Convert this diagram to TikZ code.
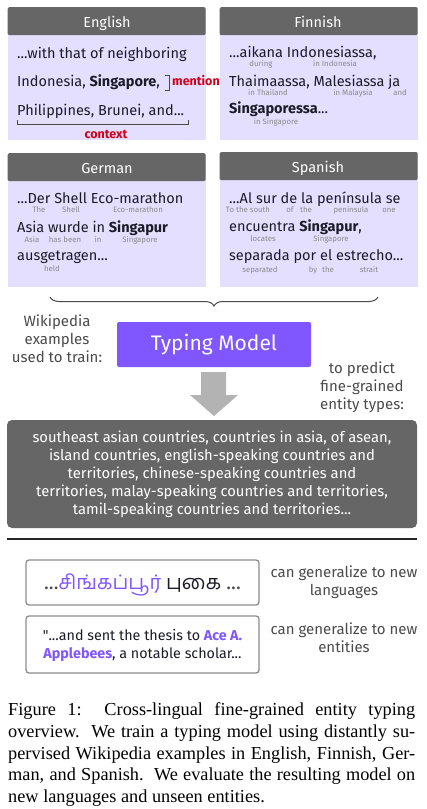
\documentclass[tikz,border=0pt]{standalone}
\usepackage{fontspec}
\setmainfont{Fira Sans}
\newfontfamily\rawfont{Fira Sans}[Ligatures=TeXOff]
\newfontfamily\capfont{Liberation Serif}
\newfontfamily\tamilfont[Script=Tamil]{Hind Madurai}
\usetikzlibrary{decorations.pathreplacing}
\definecolor{hdr}{HTML}{666666}
\definecolor{lav}{HTML}{E4DEFF}
\definecolor{txt}{HTML}{1C1C28}
\definecolor{gl}{HTML}{8A8A8A}
\definecolor{redm}{HTML}{D0021B}
\definecolor{purp}{HTML}{7F56FF}
\definecolor{arrg}{HTML}{B3B3B3}
\definecolor{side}{HTML}{4A4A4A}
\definecolor{bord}{HTML}{8C8C8C}
\tikzset{
  panel/.style={fill=lav, draw=none, anchor=north west, minimum width=198pt, minimum height=133pt, inner sep=0},
  hdrbox/.style={fill=hdr, draw=none, anchor=north west, minimum width=198pt, minimum height=28pt, inner sep=0, rounded corners=1.5pt},
  hdrtxt/.style={anchor=base, inner sep=0, text=white, font=\fontsize{14.5}{16}\selectfont},
  line/.style={anchor=base west, inner sep=0, text=txt, font=\fontsize{14.5}{16}\selectfont},
  gloss/.style={anchor=base, inner sep=0, text=gl, font=\fontsize{7.8}{8}\selectfont},
  sidetxt/.style={anchor=base, inner sep=0, text=side, font=\fontsize{15}{18}\selectfont},
  redlab/.style={anchor=base west, inner sep=0, text=redm, font=\fontsize{12.5}{14}\selectfont\bfseries},
  evalbox/.style={draw=bord, line width=1.3pt, rounded corners=3pt, fill=white, minimum width=233pt, inner sep=0},
  caption/.style={anchor=base west, inner sep=0, font=\capfont\fontsize{18.3}{22}\selectfont},
}
\begin{document}
\begin{tikzpicture}[x=1pt,y=-1pt]
\useasboundingbox (0,0) rectangle (426,809);
% ---------- English
\node[panel] (en) at (7.5,7) {};
\node[hdrbox] (enh) at (7.5,7) {};
\node[hdrtxt] (enht) at (107,27) {English};
\node[line] (en1) at (17,58) {...with that of neighboring};
\node[line] (en2) at (17,86) {Indonesia, \textbf{Singapore},};
\node[line] (en3) at (17,115) {Philippines, Brunei, and...};
\draw[side, line width=0.8pt] (165,75) -- (169,75) -- (169,90) -- (165,90);
\node[redlab] (mention) at (172,85) {mention};
\draw[side, line width=0.8pt] (17,120) -- (17,124) -- (188,124) -- (188,120);
\node[redlab, anchor=base] (context) at (106,138) {context};
% ---------- Finnish
\node[panel] (fi) at (219.5,7) {};
\node[hdrbox] (fih) at (219.5,7) {};
\node[hdrtxt] (fiht) at (318,27) {Finnish};
\node[line] (fi1) at (229,57) {...aikana Indonesiassa,};
\node[gloss] (fig1) at (261,66) {during};
\node[gloss] (fig2) at (335,66) {in Indonesia};
\node[line] (fi2) at (229,86) {Thaimaassa, Malesiassa ja};
\node[gloss] (fig3) at (268,95) {in Thailand};
\node[gloss] (fig4) at (353,95) {in Malaysia};
\node[gloss] (fig5) at (400,95) {and};
\node[line] (fi3) at (229,113) {\textbf{Singaporessa}...};
\node[gloss] (fig6) at (276,124) {in Singapore};
% ---------- German
\node[panel, minimum height=134pt] (de) at (7.5,153) {};
\node[hdrbox] (deh) at (7.5,153) {};
\node[hdrtxt] (deht) at (107,173) {German};
\node[line] (de1) at (17,203) {...Der Shell Eco-marathon};
\node[gloss] (deg1) at (39,212) {The};
\node[gloss] (deg2) at (71,212) {Shell};
\node[gloss] (deg3) at (138,212) {Eco-marathon};
\node[line] (de2) at (17,232) {Asia wurde in \textbf{Singapur}};
\node[gloss] (deg4) at (32,242) {Asia};
\node[gloss] (deg5) at (65,242) {has been};
\node[gloss] (deg6) at (98,242) {in};
\node[gloss] (deg7) at (140,242) {Singapore};
\node[line] (de3) at (17,260) {ausgetragen...};
\node[gloss] (deg8) at (52,271) {held};
% ---------- Spanish
\node[panel, minimum height=135pt] (es) at (219.5,152) {};
\node[hdrbox] (esh) at (219.5,152) {};
\node[hdrtxt] (esht) at (318,172) {Spanish};
\node[line] (es1) at (229,203) {...Al sur de la península se};
\node[gloss] (esg1) at (248,212) {To the south};
\node[gloss] (esg2) at (290,212) {of};
\node[gloss] (esg3) at (306,212) {the};
\node[gloss] (esg4) at (351,212) {peninsula};
\node[gloss] (esg5) at (389,212) {one};
\node[line] (es2) at (229,231) {encuentra \textbf{Singapur},};
\node[gloss] (esg6) at (263,241) {locates};
\node[gloss] (esg7) at (331,241) {Singapore};
\node[line] (es3) at (229,260) {separada por el estrecho...};
\node[gloss] (esg8) at (260,272) {separated};
\node[gloss] (esg9) at (313,272) {by};
\node[gloss] (esg10) at (328,272) {the};
\node[gloss] (esg11) at (369,272) {strait};
% ---------- brace, model, arrow
\coordinate (brl) at (50,297);
\coordinate (brr) at (378,297);
\draw[side, line width=1pt, decorate, decoration={brace, mirror, amplitude=9pt}] (brl) -- (brr);
\node[fill=purp, rounded corners=2pt, minimum width=194pt, minimum height=45pt, inner sep=0, text=white, font=\fontsize{21}{24}\selectfont] (tm) at (214,344.5) {Typing Model};
\node[sidetxt] (wk1) at (57,326) {Wikipedia};
\node[sidetxt] (wk2) at (57,344) {examples};
\node[sidetxt] (wk3) at (57,362) {used to train:};
\node[sidetxt] (pr1) at (362,373) {to predict};
\node[sidetxt] (pr2) at (362,391) {fine-grained};
\node[sidetxt] (pr3) at (362,409) {entity types:};
\node[fill=hdr, rounded corners=5pt, minimum width=410pt, minimum height=108pt, inner sep=0, text=white, align=center, font=\fontsize{14.8}{18}\selectfont] (types) at (212,474) {southeast asian countries, countries in asia, of asean,\\island countries, english-speaking countries and\\territories, chinese-speaking countries and\\territories, malay-speaking countries and territories,\\tamil-speaking countries and territories...};
\fill[arrg] (201,372) -- (226,372) -- (226,395) -- (238,395) -- (214,416) -- (190,395) -- (201,395) -- cycle;
% ---------- separator
\coordinate (sepl) at (7,539);
\coordinate (sepr) at (417,539);
\draw[line width=1.1pt, black!85] (sepl) -- (sepr);
% ---------- evaluation
\node[evalbox, minimum height=45pt] (ta) at (142.5,582.5) {};
\node[anchor=base, inner sep=0, font=\fontsize{20}{22}\selectfont, text=side] (tat) at (142.5,589) {...{\tamilfont\textcolor{purp}{சிங்கப்பூர்} \textcolor{txt}{புகை}} ...};
\node[evalbox, minimum height=57pt] (ac) at (142.5,644.5) {};
\node[anchor=base, inner sep=0, align=center, text=txt, font=\fontsize{14.3}{18}\selectfont] (act) at (142.5,640) {{\rawfont"}...and sent the thesis to \textcolor{purp}{\bfseries Ace A.}};
\node[anchor=base, inner sep=0, align=center, text=txt, font=\fontsize{14.3}{18}\selectfont] (act2) at (142.5,658) {\textcolor{purp}{\bfseries Applebees}, a notable scholar...};
\node[sidetxt] (gl1) at (344,577) {can generalize to new};
\node[sidetxt] (gl2) at (344,595) {languages};
\node[sidetxt] (ge1) at (344,634) {can generalize to new};
\node[sidetxt] (ge2) at (344,652) {entities};
% ---------- caption
\node[caption] (c1) at (8,715) {\makebox[407pt][s]{Figure 1:\ \ Cross-lingual fine-grained entity typing}};
\node[caption] (c2) at (8,737) {\makebox[407pt][s]{overview.\ \ We train a typing model using distantly su-}};
\node[caption] (c3) at (8,759) {\makebox[407pt][s]{pervised Wikipedia examples in English, Finnish, Ger-}};
\node[caption] (c4) at (8,780) {\makebox[407pt][s]{man, and Spanish.\ \ We evaluate the resulting model on}};
\node[caption] (c5) at (8,802) {new languages and unseen entities.};
\end{tikzpicture}
\end{document}
